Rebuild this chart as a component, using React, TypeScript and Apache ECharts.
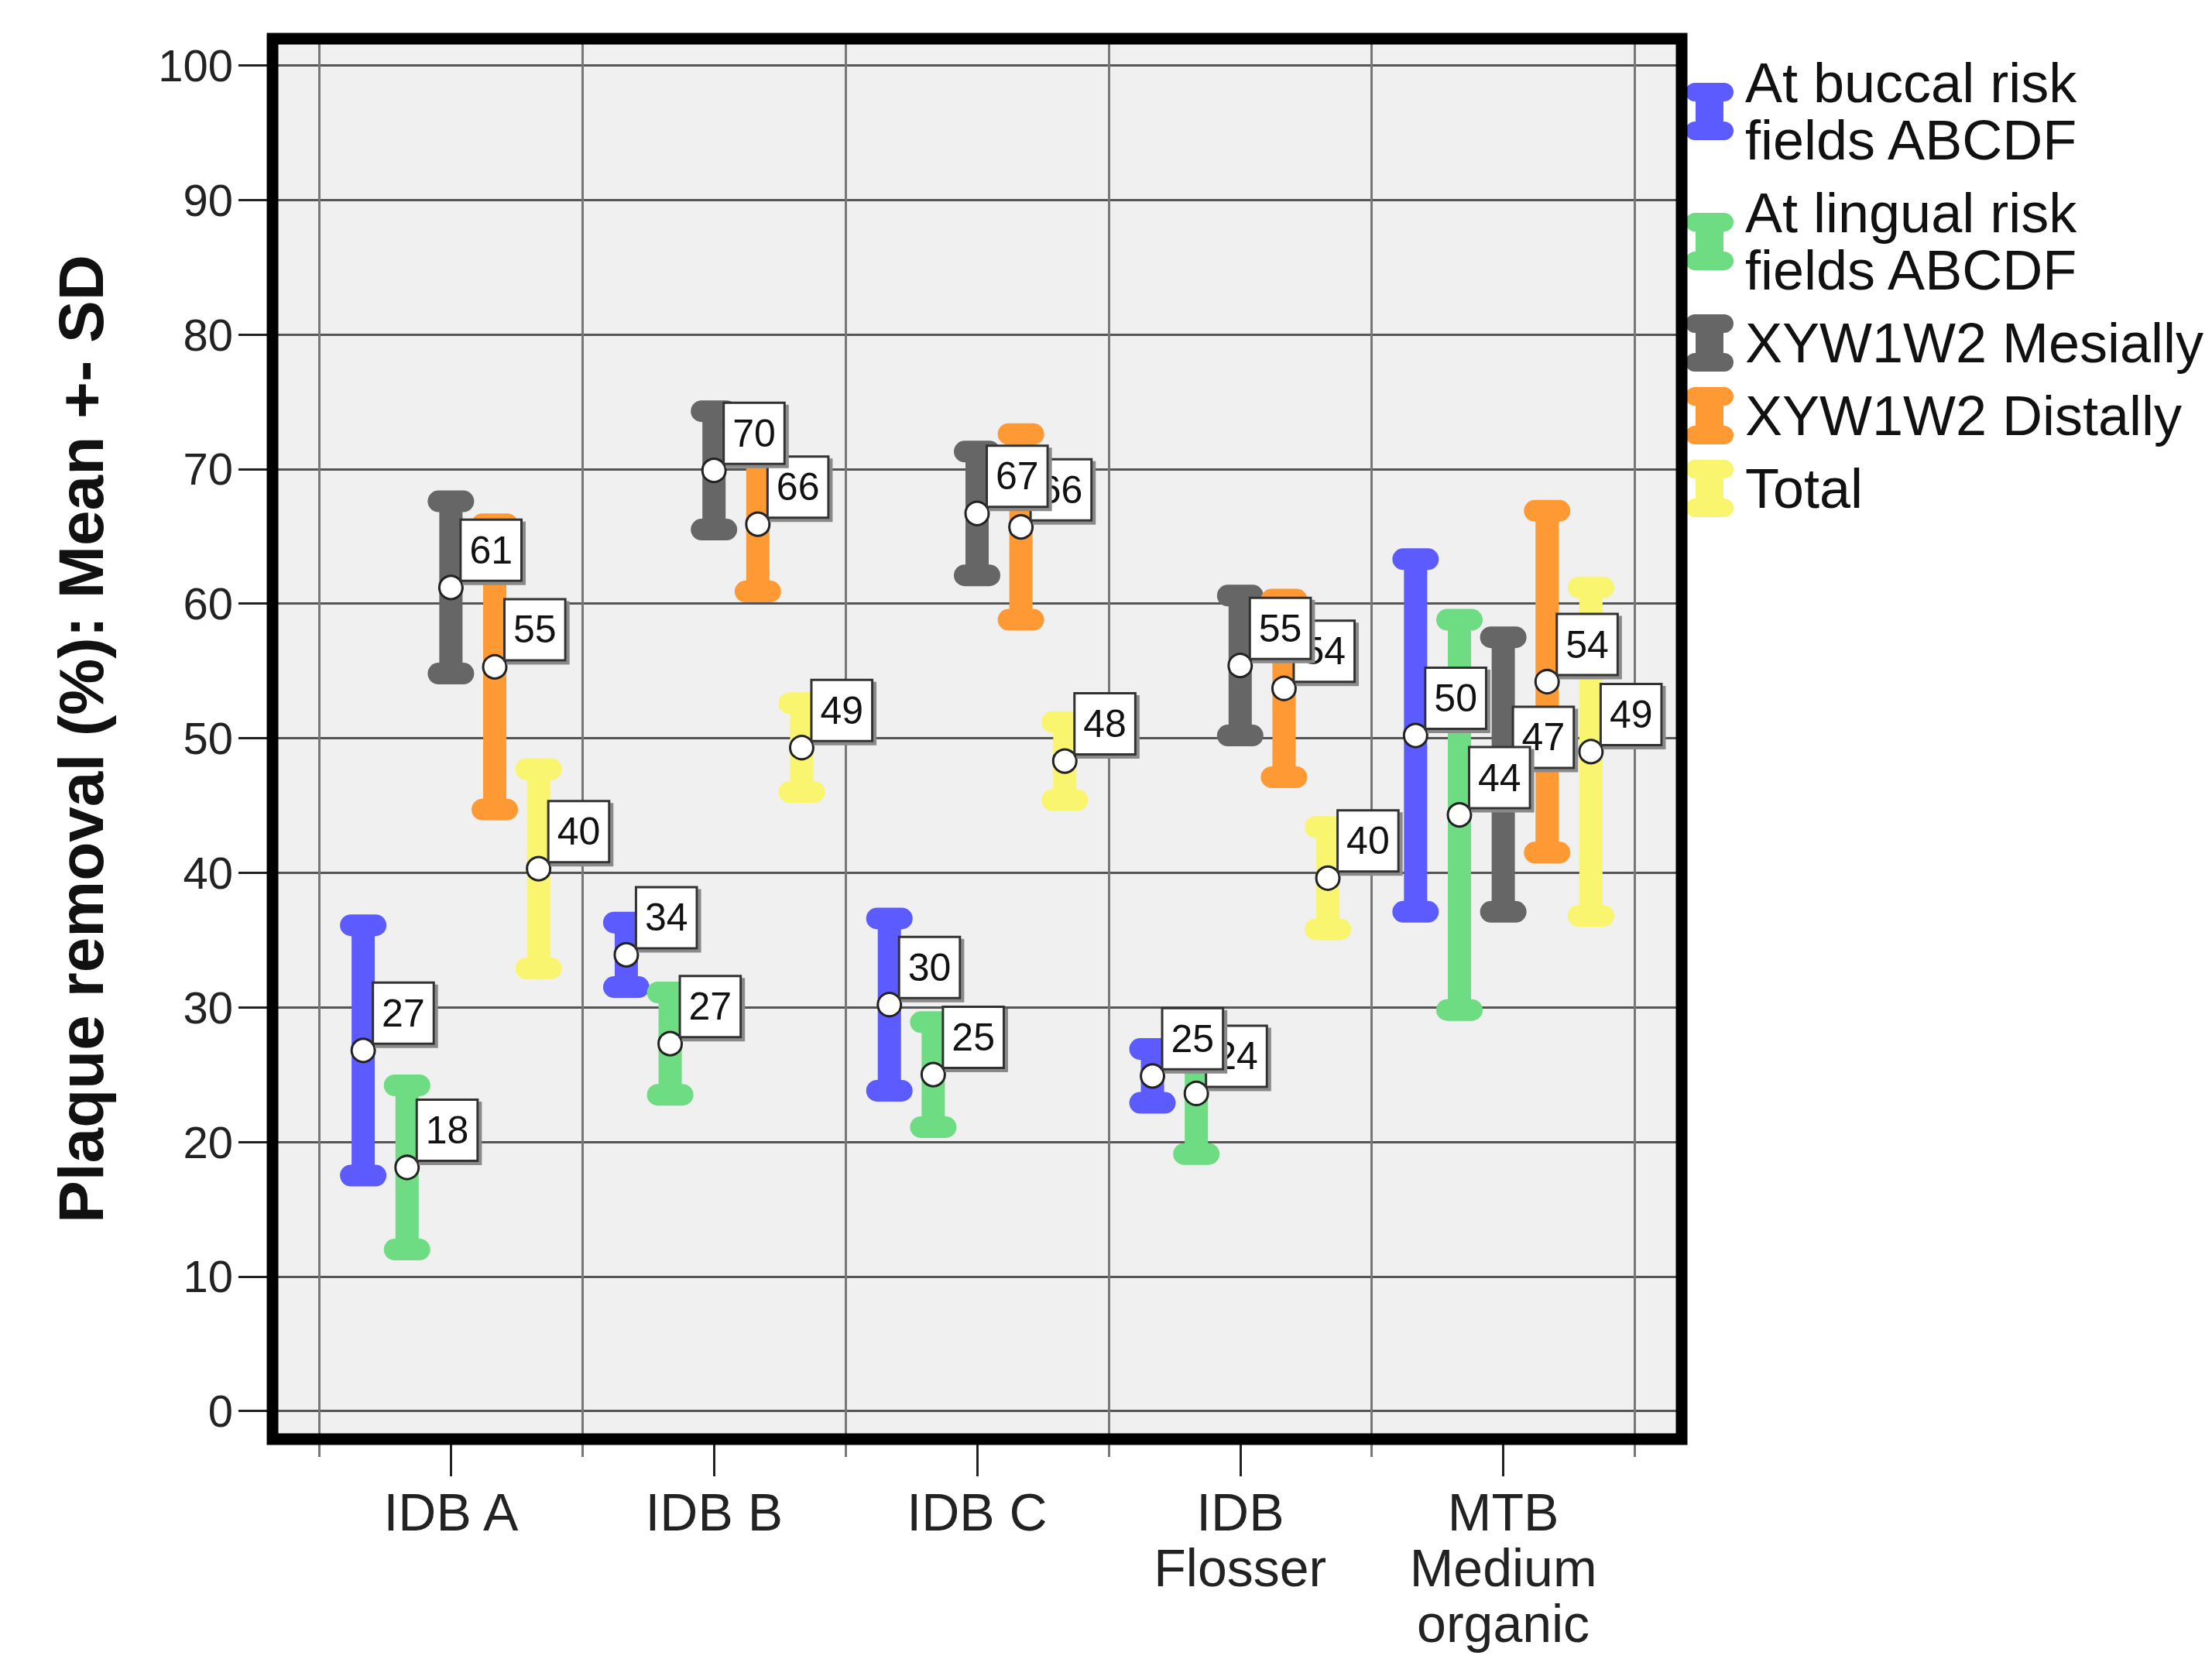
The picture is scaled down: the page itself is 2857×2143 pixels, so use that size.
import React, { useEffect, useRef } from 'react';
import * as echarts from 'echarts';

const categories = ['IDB A', 'IDB B', 'IDB C', 'IDB\nFlosser', 'MTB\nMedium\norganic'];
const categoryPositions = [1, 2, 3, 4, 5];
const categoryBoundaries = [0.5, 1.5, 2.5, 3.5, 4.5, 5.5];
const yTicks = [0, 10, 20, 30, 40, 50, 60, 70, 80, 90, 100];

const seriesNames = [
  'At buccal risk\nfields ABCDF',
  'At lingual risk\nfields ABCDF',
  'XYW1W2 Mesially',
  'XYW1W2 Distally',
  'Total',
];
const seriesColors = ['#5b5bff', '#6edc82', '#666666', '#ff9933', '#f9f56e'];

const buccalMean = [26.8, 33.9, 30.2, 24.9, 50.2];
const buccalSD = [9.3, 2.4, 6.4, 2.0, 13.1];
const lingualMean = [18.1, 27.3, 25.0, 23.6, 44.3];
const lingualSD = [6.1, 3.8, 3.9, 4.5, 14.5];
const mesialMean = [61.2, 69.9, 66.7, 55.4, 47.3];
const mesialSD = [6.4, 4.4, 4.6, 5.2, 10.2];
const distalMean = [55.3, 65.9, 65.7, 53.7, 54.2];
const distalSD = [10.6, 5.0, 6.9, 6.6, 12.7];
const totalMean = [40.3, 49.3, 48.3, 39.6, 49.0];
const totalSD = [7.4, 3.3, 2.9, 3.8, 12.2];

const allMeans = [buccalMean, lingualMean, mesialMean, distalMean, totalMean];
const allSDs = [buccalSD, lingualSD, mesialSD, distalSD, totalSD];

const FONT = '"Liberation Sans", Arial, Helvetica, sans-serif';
const LEGEND_ICON =
  'path://M12,0 H50 A12,12 0 0 1 50,24 H12 A12,12 0 0 1 12,0 Z M13,20 H49 V54 H13 Z M12,50 H50 A12,12 0 0 1 50,74 H12 A12,12 0 0 1 12,50 Z';

const makeRender = (k: number) => (params: any, api: any) => {
  const cat = api.value(0);
  const mean = api.value(1);
  const sd = api.value(2);
  const x = cat + (k - 2) / 6;
  const top = api.coord([x, mean + sd]);
  const bot = api.coord([x, mean - sd]);
  const mid = api.coord([x, mean]);
  const color = seriesColors[k];
  const bodyW = 30;
  const capW = 60;
  const capH = 28;
  return {
    type: 'group',
    children: [
      {
        type: 'rect',
        z2: 1,
        shape: { x: top[0] - bodyW / 2, y: top[1], width: bodyW, height: bot[1] - top[1] },
        style: { fill: color },
      },
      {
        type: 'rect',
        z2: 1,
        shape: { x: top[0] - capW / 2, y: top[1] - capH / 2, width: capW, height: capH, r: capH / 2 },
        style: { fill: color },
      },
      {
        type: 'rect',
        z2: 1,
        shape: { x: bot[0] - capW / 2, y: bot[1] - capH / 2, width: capW, height: capH, r: capH / 2 },
        style: { fill: color },
      },
      {
        type: 'circle',
        z2: 10,
        shape: { cx: mid[0], cy: mid[1], r: 15 },
        style: { fill: '#ffffff', stroke: '#222222', lineWidth: 3 },
      },
      {
        type: 'text',
        z2: 30 - k,
        x: mid[0] + 14,
        y: mid[1] - 10,
        style: {
          text: String(Math.round(mean)),
          align: 'left',
          verticalAlign: 'bottom',
          fill: '#111111',
          fontSize: 50,
          fontFamily: FONT,
          lineHeight: 50,
          backgroundColor: '#ffffff',
          borderColor: '#333333',
          borderWidth: 3,
          padding: [13, 10, 13, 10],
          shadowColor: '#8a8a8a',
          shadowOffsetX: 4,
          shadowOffsetY: 4,
          shadowBlur: 0,
        },
      },
    ],
  };
};

export default function App() {
  const ref = useRef<HTMLDivElement>(null);
  useEffect(() => {
    if (!ref.current) return;
    const chart = echarts.init(ref.current, null, { renderer: 'svg' });
    const xMin = 0.322;
    const xMax = 5.678;
    const option: any = {
      animation: false,
      backgroundColor: '#ffffff',
      textStyle: { fontFamily: FONT },
      grid: {
        left: 352,
        top: 50,
        width: 1820,
        height: 1809,
        show: true,
        backgroundColor: '#f0f0f0',
        borderWidth: 0,
        containLabel: false,
      },
      xAxis: [
        {
          type: 'value',
          min: xMin,
          max: xMax,
          position: 'bottom',
          axisLine: { show: false, onZero: false },
          axisTick: { show: true, customValues: categoryBoundaries, length: 23, lineStyle: { color: '#777777', width: 3 } },
          axisLabel: { show: false },
          splitLine: { show: true, lineStyle: { color: '#777777', width: 3 } },
        },
        {
          type: 'value',
          min: xMin,
          max: xMax,
          position: 'bottom',
          axisLine: { show: false, onZero: false },
          axisTick: { show: true, customValues: categoryPositions, length: 48, lineStyle: { color: '#222222', width: 3 } },
          axisLabel: {
            show: true,
            customValues: categoryPositions,
            formatter: (v: number) => categories[Math.round(v) - 1] ?? '',
            fontSize: 68,
            lineHeight: 72,
            color: '#222222',
            margin: 58,
            fontFamily: FONT,
          },
          splitLine: { show: false },
        },
      ],
      yAxis: {
        type: 'value',
        min: -2.09,
        max: 101.98,
        position: 'left',
        axisLine: { show: false, onZero: false },
        axisTick: { show: true, customValues: yTicks, length: 44, lineStyle: { color: '#222222', width: 3 } },
        axisLabel: { show: true, customValues: yTicks, fontSize: 58, color: '#222222', margin: 51, fontFamily: FONT },
        splitLine: { show: true, lineStyle: { color: '#555555', width: 3 } },
        name: 'Plaque removal (%): Mean +- SD',
        nameLocation: 'middle',
        nameRotate: 90,
        nameGap: 207,
        nameTextStyle: { fontSize: 82, fontWeight: 'bold', color: '#111111', fontFamily: FONT },
      },
      legend: {
        orient: 'vertical',
        left: 2177,
        top: 70,
        padding: 0,
        itemGap: 20,
        itemWidth: 62,
        itemHeight: 74,
        icon: LEGEND_ICON,
        selectedMode: false,
        data: seriesNames,
        textStyle: { fontSize: 72, lineHeight: 74, color: '#111111', fontFamily: FONT, padding: [0, 0, 0, 10] },
      },
      graphic: [
        {
          type: 'rect',
          z: 100,
          shape: { x: 352, y: 50, width: 1820, height: 1809 },
          style: { fill: 'none', stroke: '#000000', lineWidth: 15 },
        },
      ],
      series: seriesNames.map((name, k) => ({
        type: 'custom',
        name,
        xAxisIndex: 0,
        yAxisIndex: 0,
        itemStyle: { color: seriesColors[k] },
        renderItem: makeRender(k),
        encode: { x: 0, y: 1 },
        data: categoryPositions.map((c, i) => [c, allMeans[k][i], allSDs[k][i]]),
      })),
    };
    chart.setOption(option);
    return () => chart.dispose();
  }, []);
  return (
    <div
      ref={ref}
      style={{ position: 'fixed', left: 0, top: 0, width: '2857px', height: '2143px', background: '#fff' }}
    />
  );
}
